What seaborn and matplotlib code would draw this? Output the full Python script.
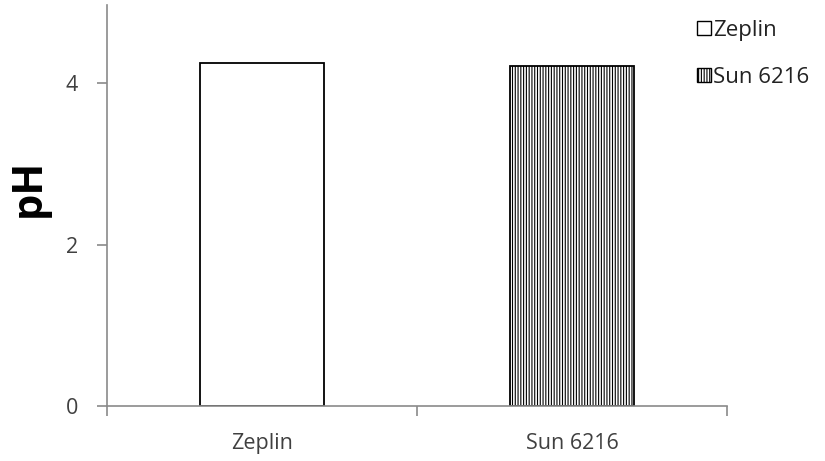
import matplotlib
matplotlib.use("Agg")
import matplotlib.pyplot as plt
import seaborn as sns
import pandas as pd
from matplotlib.patches import Patch

categories = ["Zeplin", "Sun 6216"]
ph_values = [4.25, 4.21]
y_ticks = [0, 2, 4]

sns.set_style("white")
plt.rcParams['font.family'] = ['Open Sans', 'DejaVu Sans']
plt.rcParams['hatch.linewidth'] = 0.8

df = pd.DataFrame({"variety": categories, "pH": ph_values})

fig = plt.figure(figsize=(8.25, 4.61), dpi=100)
ax = fig.add_axes([0.1297, 0.119, 0.7515, 0.870])

sns.barplot(data=df, x="variety", y="pH", ax=ax, width=0.4,
            color="white", edgecolor="black", linewidth=1.3, errorbar=None)

hatches = ["", "||||||"]
for patch, h in zip(ax.patches, hatches):
    patch.set_hatch(h)
    patch.set_facecolor("white")
    patch.set_edgecolor("black")

ax.set_ylim(0, 4.97)
ax.set_xlim(-0.5, 1.5)
ax.set_yticks(y_ticks)
ax.set_yticklabels([str(t) for t in y_ticks])
ax.set_xlabel("")
ax.set_ylabel("pH", fontsize=30, fontweight="bold", color="black")
ax.yaxis.set_label_coords(-0.092, 0.545)

for s in ["top", "right"]:
    ax.spines[s].set_visible(False)
for s in ["left", "bottom"]:
    ax.spines[s].set_color("#8a8a8a")
    ax.spines[s].set_linewidth(1.2)

ax.tick_params(axis="y", which="major", direction="out", length=7, width=1.2,
               color="#8a8a8a", labelsize=15.5, labelcolor="#404040", left=True, pad=14)
ax.tick_params(axis="x", which="major", length=0, labelsize=15.5, labelcolor="#404040", pad=19)
ax.set_xticks([-0.5, 0.5, 1.5], minor=True)
ax.tick_params(axis="x", which="minor", direction="out", length=7, width=1.2,
               color="#8a8a8a", bottom=True)

handles = [Patch(facecolor="white", edgecolor="black", hatch=h, linewidth=1.0) for h in hatches]
fig.legend(handles, categories, loc="upper left", bbox_to_anchor=(0.821, 1.0),
           frameon=False, fontsize=16, handlelength=0.6, handleheight=0.6,
           handletextpad=0.12, labelspacing=1.15, labelcolor="#222222")

fig.savefig("out.png", dpi=100)
